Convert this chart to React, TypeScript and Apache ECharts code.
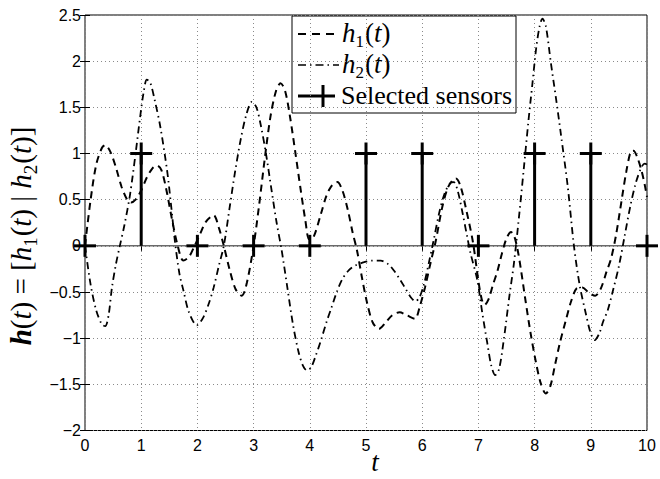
import React, { useEffect, useRef } from "react";
import * as echarts from "echarts";

// h1(t): dashed curve, [t, value]
const h1Points: [number, number][] = [
  [0, 0], [0.1, 0.5], [0.2, 0.88], [0.3, 1.06], [0.36, 1.09], [0.45, 1.02], [0.55, 0.85],
  [0.65, 0.64], [0.75, 0.5], [0.82, 0.47], [0.9, 0.5], [1.0, 0.6], [1.1, 0.74], [1.2, 0.84],
  [1.28, 0.87], [1.36, 0.82], [1.45, 0.6], [1.55, 0.28], [1.65, 0.0], [1.75, -0.16],
  [1.85, -0.12], [1.95, 0.0], [2.05, 0.13], [2.15, 0.26], [2.29, 0.33], [2.38, 0.2],
  [2.47, 0.0], [2.57, -0.25], [2.68, -0.47], [2.79, -0.54], [2.88, -0.4], [3.0, 0.0],
  [3.1, 0.45], [3.2, 0.95], [3.3, 1.4], [3.4, 1.68], [3.48, 1.76], [3.56, 1.68], [3.65, 1.39],
  [3.75, 0.98], [3.83, 0.64], [3.92, 0.28], [3.99, 0.07], [4.07, 0.1], [4.2, 0.35], [4.3, 0.55],
  [4.4, 0.66], [4.49, 0.69], [4.58, 0.6], [4.68, 0.38], [4.76, 0.15], [4.84, -0.05],
  [4.93, -0.35], [5.02, -0.62], [5.12, -0.83], [5.23, -0.9], [5.35, -0.83], [5.47, -0.75],
  [5.6, -0.72], [5.72, -0.75], [5.87, -0.79], [5.96, -0.65], [6.05, -0.45], [6.15, -0.18],
  [6.24, 0.05], [6.35, 0.4], [6.45, 0.62], [6.55, 0.72], [6.6, 0.73], [6.68, 0.65], [6.78, 0.4],
  [6.9, 0.05], [7.0, -0.38], [7.06, -0.58], [7.11, -0.64], [7.18, -0.58], [7.26, -0.42],
  [7.34, -0.27], [7.42, -0.08], [7.5, 0.08], [7.58, 0.15], [7.64, 0.1], [7.7, -0.05],
  [7.75, -0.23], [7.84, -0.6], [7.93, -0.95], [8.02, -1.25], [8.11, -1.49], [8.2, -1.6],
  [8.28, -1.52], [8.36, -1.3], [8.45, -1.05], [8.55, -0.82], [8.65, -0.6], [8.75, -0.46],
  [8.85, -0.45], [8.95, -0.5], [9.08, -0.54], [9.18, -0.46], [9.28, -0.28], [9.36, -0.14],
  [9.45, 0.12], [9.55, 0.5], [9.63, 0.8], [9.71, 1.02], [9.76, 1.03], [9.82, 0.97], [9.9, 0.82],
  [9.96, 0.66], [10, 0.53],
];

// h2(t): dash-dot curve, [t, value]
const h2Points: [number, number][] = [
  [0, 0], [0.1, -0.42], [0.2, -0.7], [0.3, -0.85], [0.36, -0.87], [0.42, -0.75], [0.48, -0.45],
  [0.55, -0.2], [0.62, 0.0], [0.7, 0.22], [0.8, 0.55], [0.9, 1.0], [0.98, 1.39], [1.04, 1.65],
  [1.1, 1.8], [1.16, 1.77], [1.24, 1.58], [1.34, 1.29], [1.46, 0.82], [1.53, 0.45], [1.6, 0.05],
  [1.68, -0.3], [1.75, -0.48], [1.85, -0.72], [1.99, -0.86], [2.1, -0.78], [2.2, -0.63],
  [2.29, -0.45], [2.38, -0.22], [2.47, 0.0], [2.57, 0.4], [2.67, 0.8], [2.77, 1.15], [2.87, 1.42],
  [2.97, 1.56], [3.05, 1.5], [3.13, 1.3], [3.22, 1.0], [3.32, 0.6], [3.41, 0.25], [3.5, -0.05],
  [3.6, -0.45], [3.7, -0.85], [3.8, -1.15], [3.88, -1.3], [3.95, -1.35], [4.02, -1.32],
  [4.1, -1.2], [4.2, -1.02], [4.3, -0.82], [4.38, -0.68], [4.48, -0.5], [4.58, -0.36],
  [4.7, -0.26], [4.82, -0.21], [4.95, -0.18], [5.1, -0.16], [5.26, -0.16], [5.4, -0.2],
  [5.5, -0.27], [5.6, -0.36], [5.7, -0.46], [5.8, -0.56], [5.88, -0.6], [5.95, -0.56],
  [6.03, -0.42], [6.12, -0.18], [6.2, 0.05], [6.3, 0.35], [6.4, 0.57], [6.5, 0.68], [6.56, 0.69],
  [6.63, 0.6], [6.72, 0.35], [6.8, 0.1], [6.86, -0.08], [6.98, -0.37], [7.07, -0.73],
  [7.16, -1.06], [7.23, -1.3], [7.3, -1.4], [7.37, -1.33], [7.46, -0.98], [7.55, -0.55],
  [7.63, -0.2], [7.72, 0.3], [7.81, 0.85], [7.89, 1.35], [7.96, 1.75], [8.03, 2.15], [8.09, 2.38],
  [8.14, 2.46], [8.2, 2.38], [8.29, 1.98], [8.38, 1.6], [8.47, 1.2], [8.59, 0.64], [8.7, 0.0],
  [8.8, -0.42], [8.91, -0.73], [9.0, -0.95], [9.07, -1.02], [9.15, -0.95], [9.22, -0.82],
  [9.3, -0.7], [9.4, -0.47], [9.5, -0.22], [9.6, 0.1], [9.7, 0.42], [9.8, 0.68], [9.9, 0.85],
  [9.96, 0.89], [10, 0.88],
];

// Selected sensors (stem plot)
const sensorTimes = [0, 1, 2, 3, 4, 5, 6, 7, 8, 9, 10];
const sensorValues = [0, 1, 0, 0, 0, 1, 1, 0, 1, 1, 0];

const baselinePoints: [number, number][] = [[0, 0], [10, 0]];

const legendLabels = ["Selected sensors"];

export default function App() {
  const ref = useRef<HTMLDivElement>(null);

  useEffect(() => {
    document.body.style.margin = "0";
    const chart = echarts.init(ref.current!, null, { renderer: "svg" });
    const serif = "'Liberation Serif', 'DejaVu Serif', serif";
    const sans = "'Liberation Sans', Arial, sans-serif";
    const fmt = (v: number) => (v < 0 ? "\u2212" + Math.abs(v) : String(v));

    const mathRich = (size: number) => {
      const sub = Math.round(size * 0.64);
      return {
        b: { fontFamily: serif, fontSize: size, fontStyle: "italic", fontWeight: "bold", color: "#000", verticalAlign: "top" },
        i: { fontFamily: serif, fontSize: size, fontStyle: "italic", color: "#000", verticalAlign: "top" },
        r: { fontFamily: serif, fontSize: size, color: "#000", verticalAlign: "top" },
        s: {
          fontFamily: serif, fontSize: sub, color: "#000", verticalAlign: "top",
          padding: [Math.round(size * 0.5), 1, 0, 0],
        },
      };
    };

    const option: any = {
      animation: false,
      backgroundColor: "#fff",
      grid: {
        left: 85, right: 13, top: 15, bottom: 48.5,
        show: true, borderColor: "#000", borderWidth: 1, backgroundColor: "transparent",
      },
      xAxis: [
        {
          type: "value", min: 0, max: 10, interval: 1,
          axisLine: { show: false },
          axisTick: { show: true, inside: true, length: 5, lineStyle: { color: "#000" } },
          axisLabel: { color: "#000", fontFamily: sans, fontSize: 16, margin: 7, formatter: fmt },
          splitLine: { show: true, lineStyle: { color: "#8a8a8a", type: [1, 3], width: 1 } },
        },
        {
          type: "value", position: "top", min: 0, max: 10, interval: 1,
          axisLine: { show: false },
          axisTick: { show: true, inside: true, length: 5, lineStyle: { color: "#000" } },
          axisLabel: { show: false },
          splitLine: { show: false },
        },
      ],
      yAxis: [
        {
          type: "value", min: -2, max: 2.5, interval: 0.5,
          axisLine: { show: false },
          axisTick: { show: true, inside: true, length: 5, lineStyle: { color: "#000" } },
          axisLabel: { color: "#000", fontFamily: sans, fontSize: 16, margin: 4, formatter: fmt },
          splitLine: { show: true, lineStyle: { color: "#8a8a8a", type: [1, 3], width: 1 } },
        },
        {
          type: "value", position: "right", min: -2, max: 2.5, interval: 0.5,
          axisLine: { show: false },
          axisTick: { show: true, inside: true, length: 5, lineStyle: { color: "#000" } },
          axisLabel: { show: false },
          splitLine: { show: false },
        },
      ],
      series: [
        {
          type: "line", data: baselinePoints, symbol: "none", silent: true, z: 1,
          lineStyle: { color: "#6a6a6a", width: 1.5 },
        },
        {
          name: "h1", type: "line", data: h1Points, symbol: "none", smooth: 0.3, z: 3,
          lineStyle: { color: "#000", width: 2, type: [7, 5] },
        },
        {
          name: "h2", type: "line", data: h2Points, symbol: "none", smooth: 0.3, z: 3,
          lineStyle: { color: "#000", width: 1.8, type: [7, 4, 1.5, 4] },
        },
        {
          name: "sensors", type: "custom", z: 4, clip: false,
          data: sensorTimes.map((t, i) => [t, sensorValues[i]]),
          renderItem: (_p: any, api: any) => {
            const t = api.value(0);
            const v = api.value(1);
            const base = api.coord([t, 0]);
            const top = api.coord([t, v]);
            const style = { stroke: "#000", lineWidth: 3 };
            const children: any[] = [];
            if (v !== 0) {
              children.push({ type: "line", shape: { x1: base[0], y1: base[1], x2: top[0], y2: top[1] }, style });
            }
            children.push({ type: "line", shape: { x1: top[0] - 11, y1: top[1], x2: top[0] + 11, y2: top[1] }, style });
            children.push({ type: "line", shape: { x1: top[0], y1: top[1] - 11, x2: top[0], y2: top[1] + 11 }, style });
            return { type: "group", children };
          },
        },
      ],
      graphic: [
        {
          type: "group", z: 100,
          children: [
            { type: "rect", shape: { x: 292, y: 16, width: 224, height: 97 }, style: { fill: "#fff", stroke: "#000", lineWidth: 1 } },
            { type: "line", shape: { x1: 298, y1: 34, x2: 339, y2: 34 }, style: { stroke: "#000", lineWidth: 1.8, lineDash: [8, 6] } },
            {
              type: "text", x: 342, y: 19,
              style: { text: "{i|h}{s|1}{r|(}{i|t}{r|)}", rich: mathRich(27), verticalAlign: "top", align: "left" },
            },
            { type: "line", shape: { x1: 298, y1: 65, x2: 339, y2: 65 }, style: { stroke: "#000", lineWidth: 1.6, lineDash: [8, 4, 1.5, 4] } },
            {
              type: "text", x: 342, y: 50,
              style: { text: "{i|h}{s|2}{r|(}{i|t}{r|)}", rich: mathRich(27), verticalAlign: "top", align: "left" },
            },
            { type: "line", shape: { x1: 298, y1: 96, x2: 335, y2: 96 }, style: { stroke: "#000", lineWidth: 3 } },
            { type: "line", shape: { x1: 323, y1: 85, x2: 323, y2: 107 }, style: { stroke: "#000", lineWidth: 3 } },
            {
              type: "text", x: 341, y: 95,
              style: { text: legendLabels[0], fontFamily: serif, fontSize: 26, fill: "#000", verticalAlign: "middle", align: "left" },
            },
          ],
        },
        {
          type: "text", x: 375, y: 462, z: 100,
          style: { text: "t", fontFamily: serif, fontStyle: "italic", fontSize: 27, fill: "#000", align: "center", verticalAlign: "middle" },
        },
        {
          type: "text", x: 23, y: 236, rotation: Math.PI / 2, z: 100,
          style: {
            text: "{b|h}{r|(}{i|t}{r|) = [}{i|h}{s|1}{r|(}{i|t}{r|) | }{i|h}{s|2}{r|(}{i|t}{r|)]}",
            rich: mathRich(29),
            align: "center", verticalAlign: "middle",
          },
        },
      ],
    };

    chart.setOption(option);
    return () => chart.dispose();
  }, []);

  return <div ref={ref} style={{ width: 660, height: 479 }} />;
}
